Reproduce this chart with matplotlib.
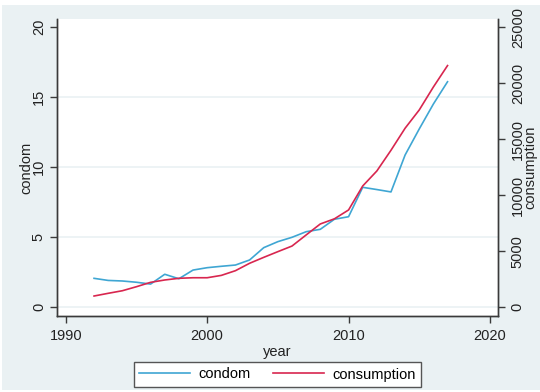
import matplotlib
matplotlib.use("Agg")
import matplotlib.pyplot as plt
from matplotlib.patches import Rectangle

plt.rcParams['font.family'] = ['Liberation Sans', 'DejaVu Sans']

years = list(range(1992, 2018))
condom = [2.07, 1.92, 1.88, 1.79, 1.66, 2.36, 2.04, 2.66, 2.83, 2.93,
          3.02, 3.38, 4.26, 4.69, 5.00, 5.40, 5.57, 6.29, 6.47, 8.57,
          8.41, 8.24, 10.88, 12.74, 14.52, 16.11]
consumption = [1009, 1250, 1480, 1840, 2230, 2440, 2590, 2640, 2640, 2850,
               3270, 3930, 4460, 4970, 5470, 6460, 7440, 7900, 8690, 10830,
               12170, 14020, 15990, 17620, 19670, 21580]

x_ticks = [1990, 2000, 2010, 2020]
left_ticks = [0, 5, 10, 15, 20]
right_ticks = [0, 5000, 10000, 15000, 20000, 25000]

BG = '#eaf1f3'
BLUE = '#3fa6d3'
RED = '#d8264f'
AXC = '#3a3a3a'
FS = 10.5

fig = plt.figure(figsize=(5.40, 3.92), dpi=100)
fig.patch.set_facecolor('white')
fig.add_artist(Rectangle((2 / 540, 2 / 392), 1 - 2 / 540, 1 - 7 / 392,
                         transform=fig.transFigure, facecolor=BG,
                         edgecolor='none', zorder=-10))

ax = fig.add_axes([57 / 540, (392 - 316) / 392, (498.3 - 57) / 540, (316 - 19) / 392])
ax.set_facecolor('white')
ax.set_xlim(1989.38, 2020.59)
ax.set_ylim(-0.62, 20.59)

for v in left_ticks[:-1]:
    ax.axhline(v, color=BG, lw=1.2, zorder=0)

l1, = ax.plot(years, condom, color=BLUE, lw=1.2, zorder=3)

ax2 = ax.twinx()
ax2.set_ylim(-0.62 * 1250, 20.59 * 1250)
l2, = ax2.plot(years, consumption, color=RED, lw=1.2, zorder=3)

for a in (ax, ax2):
    a.spines['top'].set_visible(False)
    for s in ('left', 'right', 'bottom'):
        a.spines[s].set_color(AXC)
        a.spines[s].set_linewidth(1.0)

ax.set_xticks(x_ticks)
ax.set_yticks(left_ticks)
ax.set_yticklabels([str(t) for t in left_ticks], rotation=90, va='center')
ax2.set_yticks(right_ticks)
ax2.set_yticklabels([str(t) for t in right_ticks], rotation=90, va='center')

ax.tick_params(axis='both', direction='out', length=5, width=1.0, color=AXC,
               labelsize=FS, labelcolor='#222222', pad=3)
ax.tick_params(axis='x', pad=4)
ax2.tick_params(axis='y', direction='out', length=5, width=1.0, color=AXC,
                labelsize=FS, labelcolor='#222222', pad=4)

ax.set_xlabel('year', fontsize=FS, color='#222222', labelpad=2)
ax.set_ylabel('condom', fontsize=FS, color='#222222', labelpad=-1)
ax2.set_ylabel('consumption', fontsize=FS, color='#222222', labelpad=-1)

leg = fig.legend([l1, l2], ['condom', 'consumption'], loc='center',
                 bbox_to_anchor=(277.5 / 540, (392 - 374.5) / 392), ncol=2,
                 frameon=True, fancybox=False, fontsize=FS, handlelength=3.5,
                 handletextpad=0.6, columnspacing=1.5, borderpad=0.35,
                 borderaxespad=0)
leg.get_frame().set_edgecolor('#555555')
leg.get_frame().set_linewidth(1.0)
leg.get_frame().set_facecolor('white')
leg.get_frame().set_alpha(1)

fig.savefig('out.png', dpi=100, facecolor=fig.get_facecolor())
